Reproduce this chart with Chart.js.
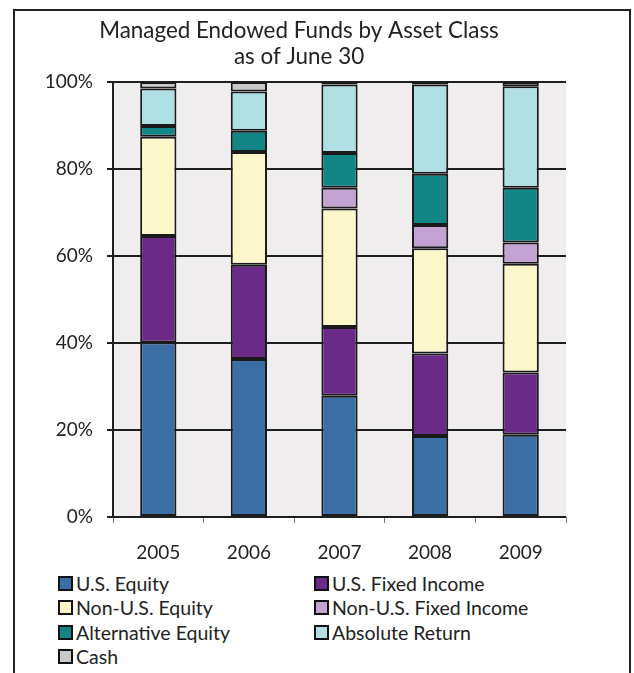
<!DOCTYPE html>
<html>
<head>
<meta charset="utf-8">
<script src="https://cdn.jsdelivr.net/npm/chart.js@4.4.1/dist/chart.umd.min.js"></script>
<style>
    html, body { margin: 0; padding: 0; background: #fff; }
    body { width: 634px; height: 673px; position: relative; overflow: hidden; font-family: Lato, sans-serif; }
    .frame { position: absolute; left: 13px; top: 9px; width: 614px; height: 700px; border: 2px solid #222; }
    .wrap { position: absolute; left: 0; top: 0; width: 600px; height: 570px; }
    #legend { position: absolute; left: 58px; top: 571px; display: grid; grid-template-columns: 256px 260px; row-gap: 0; }
    #legend .item { display: flex; align-items: center; height: 24.5px; font-size: 19.5px; color: #222; white-space: nowrap; }
    #legend .box { width: 11px; height: 11px; border: 2px solid #111; margin-right: 3px; flex: none; }
</style>
</head>
<body>
<div class="frame"></div>
<div class="wrap"><canvas id="chart1" width="600" height="570"></canvas></div>
<div id="legend"></div>
<script>
    // 연도
    const years = ['2005', '2006', '2007', '2008', '2009'];

    // 자산군별 비중 (%)
    const usEquity       = [40.1, 36.3, 27.9, 18.6, 18.9];
    const usFixed        = [24.5, 21.7, 15.8, 19.0, 14.3];
    const nonUsEquity    = [22.8, 25.9, 27.2, 24.2, 25.0];
    const nonUsFixed     = [0.0, 0.0, 4.8, 5.3, 4.9];
    const altEquity      = [2.5, 4.9, 8.0, 11.8, 12.6];
    const absoluteReturn = [8.6, 9.0, 15.7, 20.5, 23.3];
    const cash           = [1.5, 2.2, 0.6, 0.6, 1.0];

    const yTicks = [0, 20, 40, 60, 80, 100];

    function ds(label, data, color) {
        return {
            label: label,
            data: data,
            backgroundColor: color,
            borderColor: '#1a1a1a',
            // 0인 구간은 테두리 없음
            borderWidth: c => (c.raw === 0 ? 0 : 2),
            borderSkipped: false,
            barPercentage: 0.4,
            categoryPercentage: 1.0
        };
    }

    // 플롯 배경
    const plotBg = {
        id: 'plotBg',
        beforeDraw(chart) {
            const a = chart.chartArea;
            const ctx = chart.ctx;
            ctx.save();
            ctx.fillStyle = '#efedee';
            ctx.fillRect(a.left, a.top, a.right - a.left, a.bottom - a.top);
            ctx.restore();
        }
    };

    const chart1 = new Chart(document.getElementById('chart1'), {
        type: 'bar',
        data: {
            labels: years,
            datasets: [
                ds('U.S. Equity', usEquity, '#3c6ea6'),
                ds('U.S. Fixed Income', usFixed, '#6a2a87'),
                ds('Non-U.S. Equity', nonUsEquity, '#fbf7cb'),
                ds('Non-U.S. Fixed Income', nonUsFixed, '#c3a3d1'),
                ds('Alternative Equity', altEquity, '#128585'),
                ds('Absolute Return', absoluteReturn, '#b0e0e4'),
                ds('Cash', cash, '#c9c9c9')
            ]
        },
        options: {
            responsive: false,
            animation: false,
            layout: { padding: { left: 32, right: 34, top: 0, bottom: 3 } },
            plugins: {
                legend: { display: false },
                tooltip: { enabled: false },
                title: {
                    display: true,
                    text: ['Managed Endowed Funds by Asset Class', 'as of June 30'],
                    color: '#222',
                    font: { family: 'Lato', size: 22.4, weight: 'normal', lineHeight: 1.16 },
                    padding: { top: 18, bottom: 12 }
                }
            },
            scales: {
                x: {
                    stacked: true,
                    afterFit(scale) { scale.height = 50; },
                    grid: { drawOnChartArea: false, drawTicks: true, tickLength: 6, color: '#777', lineWidth: 1 },
                    border: { display: false },
                    ticks: { color: '#222', padding: 18, font: { family: 'Lato', size: 19 } }
                },
                y: {
                    stacked: true,
                    min: 0,
                    max: 100,
                    afterFit(scale) { scale.width = 81; },
                    afterBuildTicks(scale) { scale.ticks = yTicks.map(v => ({ value: v })); },
                    grid: { color: '#1e1e1e', lineWidth: 2, tickLength: 6, drawTicks: true },
                    border: { display: true, color: '#1e1e1e', width: 2 },
                    ticks: {
                        color: '#222',
                        padding: 14,
                        font: { family: 'Lato', size: 19 },
                        callback: v => v + '%'
                    }
                }
            }
        },
        plugins: [plotBg]
    });

    // 범례 (2열)
    const legend = document.getElementById('legend');
    chart1.data.datasets.forEach(function(d) {
        const item = document.createElement('div');
        item.className = 'item';
        item.innerHTML = '<span class="box" style="background:' + d.backgroundColor + '"></span>' + d.label;
        legend.appendChild(item);
    });
</script>
</body>
</html>
